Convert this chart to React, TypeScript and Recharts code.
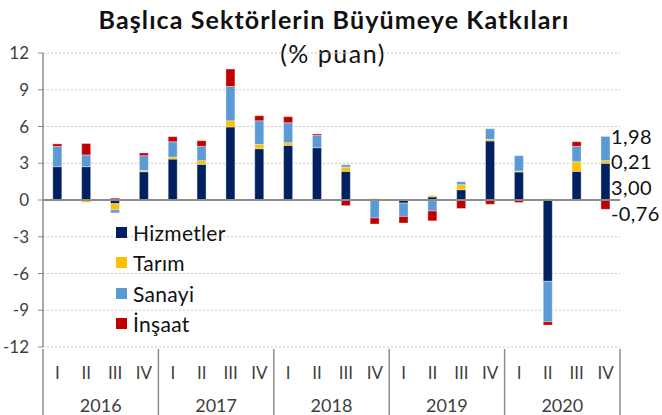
import React from 'react';
import {
  BarChart,
  Bar,
  XAxis,
  YAxis,
  CartesianGrid,
  ReferenceLine,
} from 'recharts';

// Çeyrek etiketleri ve yıllar
const quarters = ['I', 'II', 'III', 'IV', 'I', 'II', 'III', 'IV', 'I', 'II', 'III', 'IV', 'I', 'II', 'III', 'IV', 'I', 'II', 'III', 'IV'];
const years = ['2016', '2017', '2018', '2019', '2020'];

// Sektör katkıları (% puan)
const hizmetler = [2.72, 2.72, -0.3, 2.31, 3.34, 2.91, 5.96, 4.19, 4.46, 4.27, 2.34, 0, -0.25, 0.25, 0.84, 4.82, 2.29, -6.64, 2.34, 3.0];
const tarim = [-0.1, -0.2, -0.5, 0.1, 0.17, 0.3, 0.51, 0.35, 0.22, 0, 0.35, 0.12, 0, 0.12, 0.41, 0.13, 0.08, 0.1, 0.79, 0.21];
const sanayi = [1.66, 0.96, -0.25, 1.21, 1.25, 1.17, 2.8, 1.93, 1.63, 1.0, 0.19, -1.47, -1.09, -0.9, 0.24, 0.87, 1.25, -3.3, 1.25, 1.98];
const insaat = [0.2, 0.93, 0.15, 0.22, 0.41, 0.46, 1.42, 0.41, 0.49, 0.12, -0.46, -0.49, -0.54, -0.8, -0.69, -0.35, -0.2, -0.27, 0.38, -0.76];

const yTicks = [-12, -9, -6, -3, 0, 3, 6, 9, 12];

const FONT = 'Lato, "Noto Sans", sans-serif';
const TEXT = '#404040';
const AXIS = '#8c8c8c';

const series = [
  { key: 'hizmetler', name: 'Hizmetler', color: '#002060', values: hizmetler, dy: 5 },
  { key: 'tarim', name: 'Tarım', color: '#FFC000', values: tarim, dy: -1 },
  { key: 'sanayi', name: 'Sanayi', color: '#5B9BD5', values: sanayi, dy: -13 },
  { key: 'insaat', name: 'İnşaat', color: '#C00000', values: insaat, dy: 8 },
];

const data = quarters.map((q, i) => ({
  id: i,
  q,
  hizmetler: hizmetler[i],
  tarim: tarim[i],
  sanayi: sanayi[i],
  insaat: insaat[i],
}));

const LAST = data.length - 1;

// x ekseni: çeyrek + yıl etiketleri ve yıl ayırıcı çizgileri
function QuarterTick(props: any) {
  const { x, y, index, payload } = props;
  const half = payload && payload.offset ? payload.offset : 14.4;
  return (
    <g>
      <text x={x} y={y + 23} textAnchor="middle" dominantBaseline="central" fontSize={17} fill={TEXT} fontFamily={FONT}>
        {quarters[index]}
      </text>
      {index % 4 === 0 && (
        <>
          <line x1={x - half} x2={x - half} y1={y} y2={y + 70} stroke={AXIS} strokeWidth={1.5} />
          <text x={x + 3 * half} y={y + 56} textAnchor="middle" dominantBaseline="central" fontSize={18} fill={TEXT} fontFamily={FONT}>
            {years[index / 4]}
          </text>
        </>
      )}
      {index === LAST && <line x1={x + half} x2={x + half} y1={y} y2={y + 70} stroke={AXIS} strokeWidth={1.5} />}
    </g>
  );
}

// çubuk + son çeyrek için sağda değer etiketi
function makeShape(values: number[], dy: number) {
  return (props: any) => {
    const { x, y, width, height, index, fill } = props;
    const top = Math.min(y, y + height);
    const h = Math.abs(height);
    return (
      <g>
        <rect x={x} y={top} width={width} height={h} fill={fill} stroke="rgba(255,255,255,0.35)" strokeWidth={1} />
        {index === LAST && (
          <text
            x={x + width + 1}
            y={y + height / 2 + dy}
            dominantBaseline="central"
            fontSize={20}
            letterSpacing={0.4}
            fill="#111"
            fontFamily={FONT}
          >
            {values[index].toFixed(2).replace('.', ',')}
          </text>
        )}
      </g>
    );
  };
}

function LegendBox() {
  return (
    <div style={{ position: 'absolute', left: 116, top: 217, fontFamily: FONT }}>
      {series.map((s) => (
        <div key={s.key} style={{ display: 'flex', alignItems: 'center', height: 30.5 }}>
          <span style={{ width: 11, height: 11, background: s.color, marginRight: 6, display: 'inline-block' }} />
          <span style={{ fontSize: 21, color: '#111', letterSpacing: 0.3 }}>{s.name}</span>
        </div>
      ))}
    </div>
  );
}

export default function App() {
  return (
    <div style={{ position: 'absolute', left: 0, top: 0, width: 662, height: 415, background: '#fff', fontFamily: FONT }}>
      <div style={{ position: 'absolute', left: 0, width: 668, top: 4, textAlign: 'center', fontSize: 25, fontWeight: 700, letterSpacing: 1.1, color: '#111' }}>
        Başlıca Sektörlerin Büyümeye Katkıları
      </div>
      <div style={{ position: 'absolute', left: 0, width: 666, top: 38, textAlign: 'center', fontSize: 25, letterSpacing: 1.5, color: '#111' }}>
        (% puan)
      </div>
      <BarChart
        width={662}
        height={415}
        data={data}
        stackOffset="sign"
        barCategoryGap="34%"
        margin={{ top: 53, right: 42, bottom: 0, left: 0 }}
      >
        <CartesianGrid vertical={false} stroke="#c8c8c8" strokeDasharray="2 2" />
        <XAxis
          dataKey="id"
          interval={0}
          axisLine={false}
          tickLine={false}
          tickSize={0}
          height={68}
          tick={<QuarterTick />}
        />
        <YAxis
          domain={[-12, 12]}
          ticks={yTicks}
          interval={0}
          width={43}
          tickSize={5}
          tickMargin={9}
          stroke={AXIS}
          axisLine={{ stroke: AXIS, strokeWidth: 1.5 }}
          tickLine={{ stroke: AXIS }}
          tick={{ fontSize: 17, fill: TEXT, fontFamily: FONT }}
        />
        {series.map((s) => (
          <Bar
            key={s.key}
            dataKey={s.key}
            name={s.name}
            stackId="a"
            fill={s.color}
            shape={makeShape(s.values, s.dy)}
            isAnimationActive={false}
          />
        ))}
        <ReferenceLine y={0} stroke={AXIS} strokeWidth={2} />
      </BarChart>
      <LegendBox />
    </div>
  );
}
